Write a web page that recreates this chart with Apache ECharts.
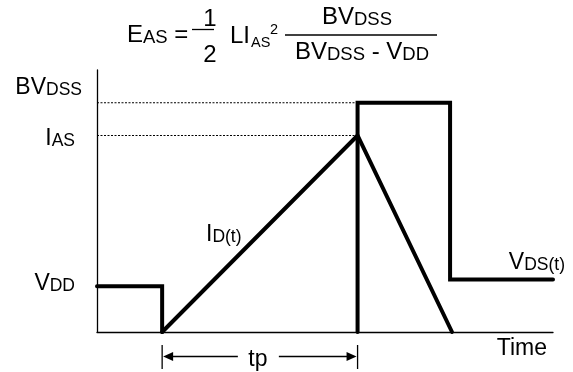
<!DOCTYPE html>
<html>
<head>
<meta charset="utf-8">
<script src="https://cdn.jsdelivr.net/npm/echarts@6/dist/echarts.min.js"></script>
<style>
html, body { margin: 0; padding: 0; background: #fff; }
#box { width: 573px; height: 372px; }
</style>
</head>
<body>
<div id="box"></div>
<script>
// time in arbitrary units (tp = 3), level in % of the axis height
var timeRange = [0, 7];
var levelRange = [0, 100];
var levelNames = ['BVDSS', 'IAS', 'VDD'];
var levelValues = [87.5, 75, 17.5];
var vdsBefore = [[0, 17.5], [1, 17.5], [1, 0]];
var vdsAfter = [[4, 0], [4, 87.5], [5.42, 87.5], [5.42, 20], [7, 20]];
var idWave = [[1, 0], [4, 75], [5.45, 0]];
var tpSpan = [1, 4];

var FONT = '"Liberation Sans", Arial, sans-serif';

// big letter + small caps, both sitting on the bottom of the line
function richSet(bigSize, smallSize) {
    return {
        a: { fontSize: bigSize, fontFamily: FONT, fill: '#000', verticalAlign: 'bottom' },
        b: { fontSize: smallSize, fontFamily: FONT, fill: '#000', verticalAlign: 'bottom' }
    };
}
var labelRich = richSet(23, 17.5);
var formulaRich = richSet(24, 18.5);
var scriptRich = { c: { fontSize: 14.5, fontFamily: FONT, fill: '#000' } };

var levelLabelText = {
    BVDSS: '{a|BV}{b|DSS}',
    IAS: '{a|I}{b|AS}',
    VDD: '{a|V}{b|DD}'
};

function wave(name, data, width, type) {
    return {
        name: name,
        type: 'line',
        data: data,
        symbol: 'none',
        silent: true,
        clip: false,
        lineStyle: { color: '#000', width: width, type: type, cap: type === 'solid' ? 'round' : 'butt', join: 'miter' }
    };
}

var chart = echarts.init(document.getElementById('box'));

chart.setOption({
    animation: false,
    grid: { left: 97, right: 20, top: 70, bottom: 40 },
    xAxis: {
        type: 'value',
        min: timeRange[0],
        max: timeRange[1],
        axisLine: { show: true, lineStyle: { color: '#000', width: 1.3 } },
        axisTick: { show: false },
        axisLabel: { show: false },
        splitLine: { show: false }
    },
    yAxis: {
        type: 'value',
        min: levelRange[0],
        max: levelRange[1],
        axisLine: { show: true, lineStyle: { color: '#000', width: 1.3 } },
        axisTick: { show: false },
        axisLabel: { show: false },
        splitLine: { show: false }
    },
    series: [
        wave('BVDSS', [[0, levelValues[0]], [tpSpan[1], levelValues[0]]], 1.2, [2, 1.5]),
        wave('IAS', [[0, levelValues[1]], [tpSpan[1], levelValues[1]]], 1.2, [2, 1.5]),
        wave('VDS', vdsBefore, 4, 'solid'),
        wave('VDS2', vdsAfter, 4, 'solid'),
        wave('ID', idWave, 4, 'solid')
    ]
});

function px(x, y) {
    return chart.convertToPixel({ seriesIndex: 2 }, [x, y]);
}

function txt(x, y, text, rich, align) {
    return {
        type: 'text', x: x, y: y, silent: true,
        style: { text: text, rich: rich, align: align || 'left', verticalAlign: 'middle', fill: '#000' }
    };
}
function seg(x1, y1, x2, y2, w) {
    return {
        type: 'line', silent: true,
        shape: { x1: x1, y1: y1, x2: x2, y2: y2 },
        style: { stroke: '#000', lineWidth: w || 1.3 }
    };
}
function tri(points) {
    return { type: 'polygon', silent: true, shape: { points: points }, style: { fill: '#000' } };
}

var g = [];

// level labels left of the axis
var labelShift = { BVDSS: [-15, -15], IAS: [-22, 3], VDD: [-22, -2] };
levelNames.forEach(function (n, i) {
    var p = px(0, levelValues[i]);
    g.push(txt(p[0] + labelShift[n][0], p[1] + labelShift[n][1], levelLabelText[n], labelRich, 'right'));
});

// curve names and time axis name
g.push(txt(206, 235, '{a|I}{b|D(t)}', labelRich));
var vEnd = px(timeRange[1], vdsAfter[vdsAfter.length - 1][1]);
g.push(txt(vEnd[0] + 12, vEnd[1] - 16.5, '{a|V}{b|DS(t)}', labelRich, 'right'));
var tEnd = px(timeRange[1], 0);
g.push(txt(tEnd[0] - 6, tEnd[1] + 16.5, '{a|Time}', labelRich, 'right'));

// tp dimension arrow
var a0 = px(tpSpan[0], 0), a1 = px(tpSpan[1], 0);
var ay = a0[1] + 24.5, mid = (a0[0] + a1[0]) / 2;
g.push(seg(a0[0], a0[1] + 13, a0[0], a0[1] + 37));
g.push(seg(a1[0], a1[1] + 13, a1[0], a1[1] + 37));
g.push(seg(a0[0] + 8, ay, mid - 22, ay));
g.push(seg(mid + 19, ay, a1[0] - 8, ay));
g.push(tri([[a0[0] + 1, ay], [a0[0] + 11, ay - 4.5], [a0[0] + 11, ay + 4.5]]));
g.push(tri([[a1[0] - 1, ay], [a1[0] - 11, ay - 4.5], [a1[0] - 11, ay + 4.5]]));
g.push(txt(mid - 2, ay + 3, '{a|tp}', labelRich, 'center'));

// formula: EAS = 1/2 LIAS^2 BVDSS / (BVDSS - VDD)
g.push(txt(127, 35, '{a|E}{b|AS}{a| =}', formulaRich));
g.push(seg(192, 29.5, 214, 29.5, 1.3));
g.push(txt(210, 19, '{a|1}', formulaRich, 'center'));
g.push(txt(210, 55, '{a|2}', formulaRich, 'center'));
g.push(txt(230, 36, '{a|LI}', formulaRich));
g.push(txt(251, 43, '{c|AS}', scriptRich));
g.push(txt(270, 30, '{c|2}', scriptRich));
g.push(seg(285, 35, 437, 35, 1.3));
g.push(txt(357, 17.5, '{a|BV}{b|DSS}', formulaRich, 'center'));
g.push(txt(362, 52.5, '{a|BV}{b|DSS}{a| - V}{b|DD}', formulaRich, 'center'));

chart.setOption({ graphic: g });
</script>
</body>
</html>
